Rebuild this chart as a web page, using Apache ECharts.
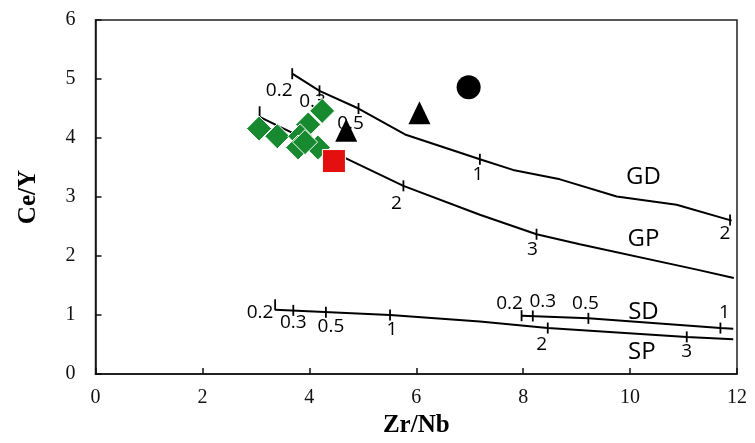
<!DOCTYPE html>
<html>
<head>
<meta charset="utf-8">
<script src="https://cdn.jsdelivr.net/npm/echarts@6/dist/echarts.min.js"></script>
<style>html,body{margin:0;padding:0;background:#fff}#c{width:755px;height:443px}</style>
</head>
<body>
<div id="c"></div>
<script>
// ---- data ----
const xTicks = [0, 2, 4, 6, 8, 10, 12];
const yTicks = [0, 1, 2, 3, 4, 5, 6];

const gdX = [3.68, 4.19, 4.92, 5.79, 7.19, 7.81, 8.69, 9.75, 10.87, 11.90];
const gdY = [5.09, 4.80, 4.50, 4.06, 3.64, 3.46, 3.30, 3.01, 2.87, 2.60];
const gdTickX = [3.68, 4.19, 4.92, 7.19, 11.87];
const gdTickY = [5.09, 4.80, 4.50, 3.64, 2.61];
const gdTickLabels = ['0.2', '0.3', '0.5', '1', '2'];

const gpX = [3.07, 3.45, 4.47, 5.76, 7.19, 8.25, 9.06, 11.25, 11.94];
const gpY = [4.36, 4.19, 3.75, 3.19, 2.70, 2.37, 2.20, 1.77, 1.63];
const gpTickX = [3.07, 5.76, 8.25];
const gpTickY = [4.36, 3.19, 2.37];
const gpTickLabels = ['', '2', '3'];

const spX = [3.36, 5.51, 7.19, 8.46, 11.06, 11.93];
const spY = [1.09, 1.00, 0.89, 0.78, 0.63, 0.59];
const spTickX = [3.36, 3.70, 4.31, 5.51, 8.46, 11.06];
const spTickY = [1.09, 1.08, 1.05, 1.00, 0.78, 0.63];
const spTickLabels = ['0.2', '0.3', '0.5', '1', '2', '3'];

const sdX = [7.97, 9.22, 11.69, 11.93];
const sdY = [0.99, 0.945, 0.78, 0.77];
const sdTickX = [7.97, 8.18, 9.22, 11.69];
const sdTickY = [0.99, 0.985, 0.945, 0.78];
const sdTickLabels = ['0.2', '0.3', '0.5', '1'];

const curveNames = ['GD', 'GP', 'SD', 'SP'];
const curveNameX = [10.25, 10.25, 10.25, 10.22];
const curveNameY = [3.33, 2.28, 1.05, 0.38];

const diamondX = [3.06, 3.40, 4.24, 3.98, 3.83, 3.79, 4.16, 3.92];
const diamondY = [4.16, 4.03, 4.46, 4.23, 4.03, 3.84, 3.84, 3.93];
const squareX = [4.46];
const squareY = [3.61];
const triangleX = [4.69, 6.06];
const triangleY = [4.13, 4.43];
const circleX = [6.98];
const circleY = [4.86];

// ---- styling / building ----
const zip = (xs, ys) => xs.map((x, i) => [x, ys[i]]);
const tickFont = 'Open Sans';

const labelOffsets = {
  GD: [[-13, 17], [-7, 11], [-8, 15], [-2, 15], [-5, 14]],
  GP: [[0, 0], [-7, 18], [-4, 15]],
  SP: [[-15, 8], [0, 12], [5, 14], [2, 15], [-6, 17], [0, 15]],
  SD: [[-12, -12], [10, -14], [-3, -15], [4, -15]]
};
const startUp = { GP: true, SP: true };

function lineSeries(xs, ys) {
  return {
    type: 'line', data: zip(xs, ys), showSymbol: false, symbol: 'none',
    lineStyle: { color: '#000', width: 2, opacity: 1 }, silent: true, z: 2
  };
}
function tickSeries(name, xs, ys, labels) {
  return {
    type: 'scatter', z: 3, silent: true,
    symbol: 'rect', symbolSize: [1.8, 11],
    itemStyle: { color: '#000', opacity: 1 },
    data: xs.map((x, i) => ({
      value: [x, ys[i]],
      symbolOffset: (i === 0 && startUp[name]) ? [0, -5] : [0, 0],
      label: {
        show: labels[i] !== '', formatter: labels[i], position: 'inside',
        offset: labelOffsets[name][i], color: '#000',
        fontFamily: tickFont, fontSize: 19
      }
    }))
  };
}

const series = [
  lineSeries(gdX, gdY), lineSeries(gpX, gpY), lineSeries(spX, spY), lineSeries(sdX, sdY),
  tickSeries('GD', gdTickX, gdTickY, gdTickLabels),
  tickSeries('GP', gpTickX, gpTickY, gpTickLabels),
  tickSeries('SP', spTickX, spTickY, spTickLabels),
  tickSeries('SD', sdTickX, sdTickY, sdTickLabels),
  {
    type: 'scatter', z: 3, silent: true, symbolSize: 0,
    itemStyle: { opacity: 1 },
    data: curveNames.map((n, i) => ({
      value: [curveNameX[i], curveNameY[i]],
      label: { show: true, formatter: n, position: 'inside', color: '#000', fontFamily: tickFont, fontSize: 24 }
    }))
  },
  {
    type: 'scatter', z: 10, silent: true, symbol: 'diamond', symbolSize: 25,
    itemStyle: { color: '#178a2f', borderColor: '#fff', borderWidth: 1, opacity: 1 },
    data: zip(diamondX, diamondY)
  },
  {
    type: 'scatter', z: 10, silent: true, symbol: 'rect', symbolSize: 23,
    itemStyle: { color: '#e3100f', borderColor: '#fff', borderWidth: 1, opacity: 1 },
    data: zip(squareX, squareY)
  },
  {
    type: 'scatter', z: 10, silent: true, symbol: 'triangle', symbolSize: [22, 23],
    itemStyle: { color: '#000', opacity: 1 },
    data: zip(triangleX, triangleY)
  },
  {
    type: 'scatter', z: 10, silent: true, symbol: 'circle', symbolSize: 24,
    itemStyle: { color: '#000', opacity: 1 },
    data: zip(circleX, circleY)
  }
];

const axisCommon = {
  axisLine: { show: true, lineStyle: { color: '#111', width: 1.5 } },
  axisTick: { show: true, inside: true, length: 6, lineStyle: { color: '#111', width: 1.5 } },
  splitLine: { show: false },
  axisLabel: { color: '#111', fontFamily: 'Liberation Serif', fontSize: 20 },
  nameTextStyle: { color: '#000', fontFamily: 'Liberation Serif', fontWeight: 'bold', fontSize: 25 },
  nameLocation: 'middle'
};

const chart = echarts.init(document.getElementById('c'));
chart.setOption({
  animation: false,
  backgroundColor: '#fff',
  grid: { left: 95.5, right: 18, top: 20, bottom: 57, show: true, borderColor: '#222', borderWidth: 1.5, containLabel: false },
  xAxis: Object.assign({}, axisCommon, {
    type: 'value', min: xTicks[0], max: xTicks[xTicks.length - 1], interval: xTicks[1] - xTicks[0],
    name: 'Zr/Nb', nameGap: 36,
    axisLabel: Object.assign({}, axisCommon.axisLabel, { margin: 14, formatter: v => xTicks.includes(v) ? String(v) : '' })
  }),
  yAxis: Object.assign({}, axisCommon, {
    type: 'value', min: yTicks[0], max: yTicks[yTicks.length - 1], interval: yTicks[1] - yTicks[0],
    name: 'Ce/Y', nameGap: 54, nameRotate: 90,
    axisLabel: Object.assign({}, axisCommon.axisLabel, { margin: 20, formatter: v => yTicks.includes(v) ? String(v) : '' })
  }),
  series: series
});
</script>
</body>
</html>
